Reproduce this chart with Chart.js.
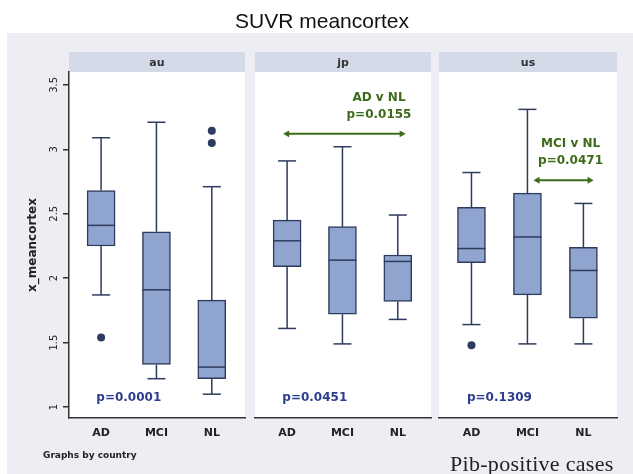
<!DOCTYPE html>
<html>
<head>
<meta charset="utf-8">
<script src="https://cdn.jsdelivr.net/npm/chart.js@4.4.1/dist/chart.umd.min.js"></script>
<style>
  body { margin: 0; width: 633px; height: 474px; overflow: hidden; position: relative; background: #fff; }
  #bg { position: absolute; left: 7px; top: 33px; right: 0; bottom: 0; background: #eceef4; }
  canvas { position: absolute; left: 0; top: 0; }
  #title { position: absolute; left: 0; width: 644px; top: 9px; text-align: center;
           font: 21px "Liberation Sans", Arial, sans-serif; color: #111; }
  #byCountry { position: absolute; left: 43px; top: 450px; font: bold 9px "DejaVu Sans", sans-serif; color: #222; }
  #pib { position: absolute; left: 450px; top: 451px; font: 22px "Liberation Serif", "Times New Roman", serif;
         letter-spacing: 0.3px; color: #222; }
</style>
</head>
<body>
<div id="bg"></div>
<canvas id="c0" width="633" height="474"></canvas>
<canvas id="c1" width="633" height="474"></canvas>
<canvas id="c2" width="633" height="474"></canvas>
<div id="title">SUVR meancortex</div>
<div id="byCountry">Graphs by country</div>
<div id="pib">Pib-positive cases</div>
<script>
// panels and groups
const countries = ["au", "jp", "us"];
const groups = ["AD", "MCI", "NL"];

// box stats, one row per country, columns AD / MCI / NL
const lowWhisker  = [[1.87, 1.22, 1.10], [1.61, 1.49, 1.68], [1.64, 1.49, 1.49]];
const q1          = [[2.25, 1.33, 1.22], [2.09, 1.72, 1.82], [2.12, 1.87, 1.69]];
const median      = [[2.41, 1.91, 1.31], [2.29, 2.14, 2.13], [2.23, 2.32, 2.06]];
const q3          = [[2.68, 2.36, 1.83], [2.45, 2.40, 2.18], [2.55, 2.66, 2.24]];
const highWhisker = [[3.09, 3.21, 2.71], [2.91, 3.02, 2.49], [2.82, 3.31, 2.58]];
// outliers as [group index (1-based), value]
const outliers = [[[1, 1.54], [3, 3.145], [3, 3.05]], [], [[1, 1.48]]];

const pValues = ["p=0.0001", "p=0.0451", "p=0.1309"];
// pairwise comparison arrows
const compText = [null, ["AD v NL", "p=0.0155"], ["MCI v NL", "p=0.0471"]];
const compFrom = [null, 1.0, 2.18];
const compTo   = [null, 3.07, 3.11];
const compY    = [null, 3.12, 2.76];

const yTicks = [1, 1.5, 2, 2.5, 3, 3.5];

// layout
const panelLeft  = [69, 255, 439];
const panelRight = [245, 431, 617];
const BOX_FILL = "#8fa4ce";
const LINE = "#2e3b5e";
const GREEN = "#3d6b1a";
const BLUE = "#2b3d8c";

const panelDecor = {
  id: "panelDecor",
  beforeDraw(chart, args, opts) {
    const { ctx, chartArea: a } = chart;
    ctx.save();
    ctx.fillStyle = "#fff";
    ctx.fillRect(a.left, a.top, a.right - a.left, a.bottom - a.top);
    ctx.fillStyle = "#d5dae9";
    ctx.fillRect(a.left, a.top - 20, a.right - a.left, 20);
    ctx.fillStyle = "#333";
    ctx.font = 'bold 11px "DejaVu Sans"';
    ctx.textAlign = "center";
    ctx.textBaseline = "middle";
    ctx.fillText(opts.name, (a.left + a.right) / 2, a.top - 9);
    ctx.restore();
  },
  afterDatasetsDraw(chart, args, opts) {
    const { ctx, scales: { x, y } } = chart;
    ctx.save();
    ctx.textAlign = "center";
    ctx.textBaseline = "middle";
    ctx.font = 'bold 12px "DejaVu Sans"';
    ctx.fillStyle = BLUE;
    ctx.fillText(opts.p, x.getPixelForValue(1.5), y.getPixelForValue(1.07));
    if (opts.comp) {
      ctx.fillStyle = GREEN;
      const cx = x.getPixelForValue(opts.compX);
      ctx.fillText(opts.comp[0], cx, y.getPixelForValue(opts.compY + 0.28));
      ctx.fillText(opts.comp[1], cx, y.getPixelForValue(opts.compY + 0.15));
    }
    ctx.restore();
  }
};

function makePanel(i) {
  const boxes = groups.map((g, j) => ({ x: j + 1, y: [q1[i][j], q3[i][j]] }));
  const whiskers = [];
  const caps = [];
  groups.forEach((g, j) => {
    whiskers.push({ x: j + 1, y: q3[i][j] }, { x: j + 1, y: highWhisker[i][j] }, { x: j + 1, y: null });
    whiskers.push({ x: j + 1, y: q1[i][j] }, { x: j + 1, y: lowWhisker[i][j] }, { x: j + 1, y: null });
    caps.push({ x: j + 1, y: highWhisker[i][j] }, { x: j + 1, y: lowWhisker[i][j] });
  });
  const meds = groups.map((g, j) => ({ x: j + 1, y: median[i][j] }));
  const outs = outliers[i].map(o => ({ x: o[0], y: o[1] }));

  const datasets = [
    { type: "line", data: whiskers, borderColor: LINE, borderWidth: 1.5, pointRadius: 0, spanGaps: false, order: 3 },
    { type: "bar", data: boxes, backgroundColor: BOX_FILL, borderColor: LINE, borderWidth: 1.5,
      borderSkipped: false, barThickness: 28, order: 2 },
    { type: "scatter", data: meds, pointStyle: "line", pointRadius: 14, borderColor: LINE, borderWidth: 1.5, order: 1 },
    { type: "scatter", data: caps, pointStyle: "line", pointRadius: 9, borderColor: LINE, borderWidth: 1.5, order: 1 },
    { type: "scatter", data: outs, pointStyle: "circle", pointRadius: 4, backgroundColor: LINE, borderColor: LINE, borderWidth: 0, order: 1 }
  ];
  if (compText[i]) {
    datasets.push({
      type: "line",
      data: [{ x: compFrom[i], y: compY[i] }, { x: compTo[i], y: compY[i] }],
      borderColor: GREEN, borderWidth: 2,
      pointStyle: "triangle", pointRadius: 4, pointRotation: [270, 90],
      pointBackgroundColor: GREEN, pointBorderColor: GREEN, pointBorderWidth: 0, order: 0
    });
  }

  const compX = compText[i] ? (i === 1 ? 2.66 : 2.77) : 0;

  new Chart(document.getElementById("c" + i), {
    type: "bar",
    data: { datasets },
    plugins: [panelDecor],
    options: {
      responsive: false,
      animation: false,
      events: [],
      layout: { padding: { left: i === 0 ? 0 : panelLeft[i], right: 633 - panelRight[i], top: 72, bottom: 0 } },
      plugins: {
        legend: { display: false },
        tooltip: { enabled: false },
        panelDecor: { name: countries[i], p: pValues[i], comp: compText[i], compX: compX, compY: compY[i] }
      },
      scales: {
        x: {
          type: "linear",
          min: 0.42, max: 3.6,
          offset: false,
          afterBuildTicks: s => { s.ticks = [1, 2, 3].map(v => ({ value: v })); },
          afterFit: s => { s.height = 56; },
          ticks: {
            callback: v => groups[v - 1],
            font: { family: "DejaVu Sans", size: 11, weight: "bold" },
            color: "#222",
            padding: 9,
            maxRotation: 0
          },
          grid: { display: false, drawTicks: false },
          border: { display: true, color: "#333", width: 1.5 }
        },
        y: {
          type: "linear",
          display: i === 0,
          min: 0.915, max: 3.6,
          afterBuildTicks: s => { s.ticks = yTicks.map(v => ({ value: v })); },
          afterFit: s => { s.width = i === 0 ? 69 : 0; },
          ticks: {
            callback: v => String(v),
            minRotation: 90, maxRotation: 90,
            crossAlign: "center",
            padding: 1,
            font: { family: "DejaVu Sans", size: 10 },
            color: "#222"
          },
          grid: { drawOnChartArea: false, drawTicks: true, tickLength: 6, color: "#333", lineWidth: 1.5 },
          border: { display: true, color: "#333", width: 1.5 },
          title: {
            display: true,
            text: "x_meancortex",
            font: { family: "DejaVu Sans", size: 12, weight: "bold" },
            color: "#222",
            padding: { top: 26, bottom: 0 }
          }
        }
      }
    }
  });
}

countries.forEach((c, i) => makePanel(i));
</script>
</body>
</html>
